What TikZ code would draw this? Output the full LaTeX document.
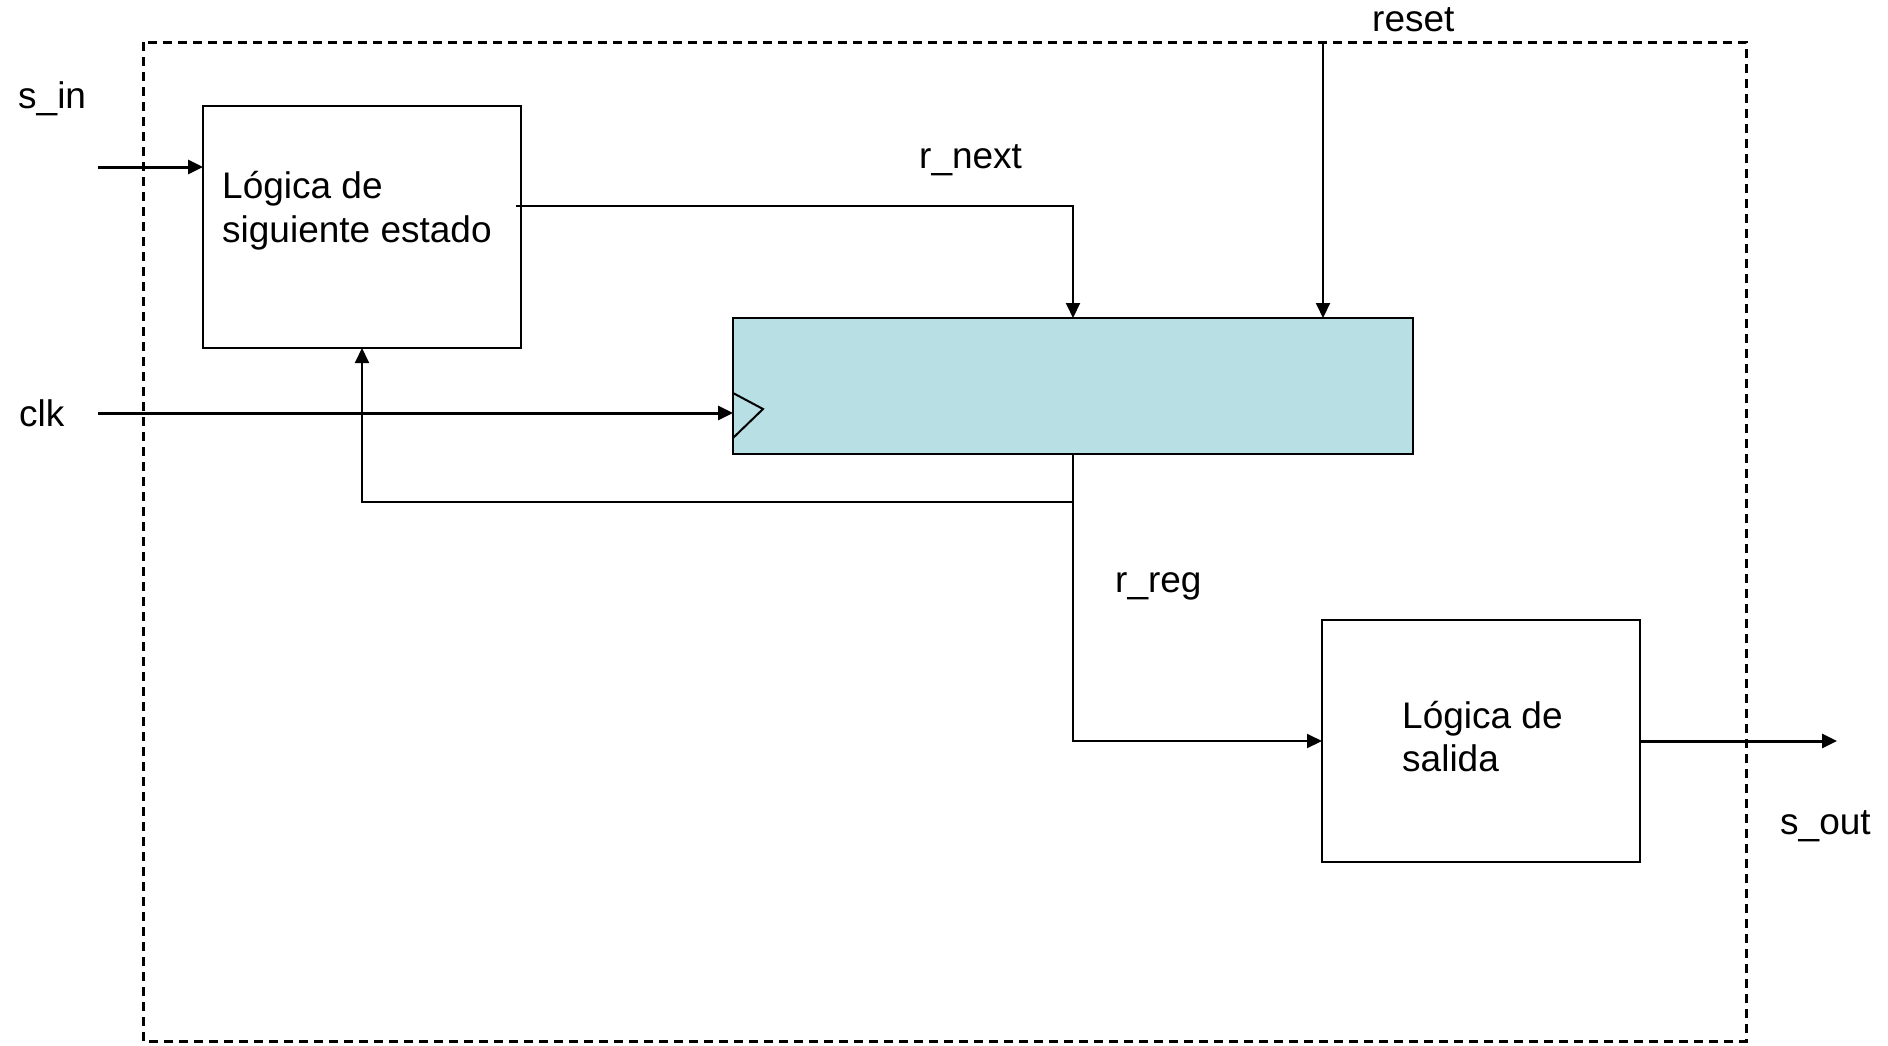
\documentclass[tikz,border=0pt]{standalone}
\usepackage{fontspec}
\setmainfont{Liberation Sans}
\usetikzlibrary{arrows.meta}
\definecolor{regfill}{RGB}{184,223,227}
\tikzset{
  blk/.style={draw=black, line width=2pt, rectangle, outer sep=0pt, inner sep=0pt, anchor=north west},
  lbl/.style={inner sep=0pt, anchor=base west, font=\fontsize{37}{42.5}\selectfont, align=left},
  wire/.style={line width=2pt},
  bus/.style={line width=3pt},
  tip/.style={-{Triangle[length=15pt,width=14pt]}},
  frame/.style={line width=3pt, dash pattern=on 9pt off 6pt}
}
\begin{document}
\begin{tikzpicture}[x=1pt,y=-1pt]
\useasboundingbox (0,0) rectangle (1888,1045);
% enclosing dashed boundary
\draw[frame] (143,42) rectangle (1746,1041);

% blocks
\node[blk, minimum width=318pt, minimum height=242pt] (nsl) at (203,106) {};
\node[blk, fill=regfill, minimum width=680pt, minimum height=136pt] (reg) at (733,318) {};
\node[blk, minimum width=318pt, minimum height=242pt] (outl) at (1322,620) {};

% clock marker on the register
\draw[wire] (reg.west |- 0,393) -- (763,409) -- (reg.west |- 0,438);

% block texts
\node[lbl] (nsltxt1) at (222,198) {Lógica de};
\node[lbl] (nsltxt2) at (222,242) {siguiente estado};
\node[lbl] (outtxt1) at (1402,728) {Lógica de};
\node[lbl] (outtxt2) at (1402,771) {salida};

% signal labels
\node[lbl] (sin) at (18,108) {s\_in};
\node[lbl] (clk) at (19,426) {clk};
\node[lbl] (rst) at (1372,31) {reset};
\node[lbl] (rnext) at (919,168) {r\_next};
\node[lbl] (rreg) at (1115,592) {r\_reg};
\node[lbl] (sout) at (1780,834) {s\_out};

% wire end points and corners
\coordinate (sinS) at (98,167);
\coordinate (clkS) at (98,413);
\coordinate (rstS) at (1323,43);
\coordinate (nxtS) at (516,206);
\coordinate (nxtC) at (1073,206);
\coordinate (fbJ) at (1073,502);
\coordinate (fbC) at (362,502);
\coordinate (outC) at (1073,741);
\coordinate (soutE) at (1837,741);

% connectors
\draw[bus,tip] (sinS) -- (sinS -| nsl.west);
\draw[bus,tip] (clkS) -- (clkS -| reg.west);
\draw[wire,tip] (nxtS) -- (nxtC) -- (nxtC |- reg.north);
\draw[wire,tip] (rstS) -- (rstS |- reg.north);
\draw[wire] (fbJ |- reg.south) -- (fbJ);
\draw[wire,tip] (fbJ) -- (fbC) -- (fbC |- nsl.south);
\draw[wire,tip] (fbJ) -- (outC) -- (outC -| outl.west);
\draw[bus,tip] (outC -| outl.east) -- (soutE);
\end{tikzpicture}
\end{document}
